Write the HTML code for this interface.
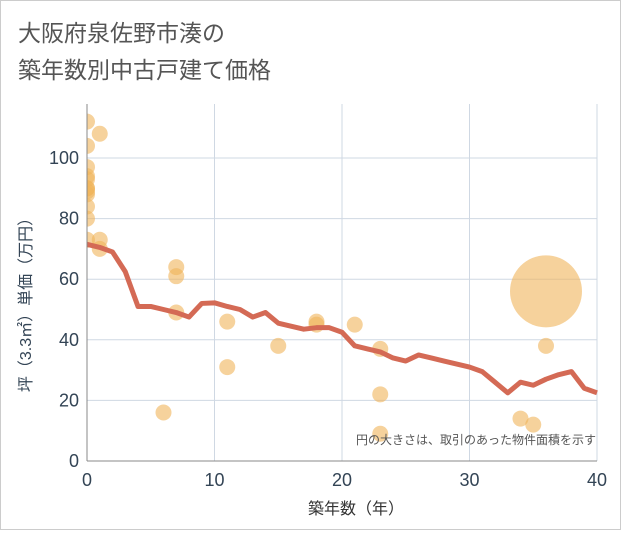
<!DOCTYPE html>
<html><head><meta charset="utf-8"><style>
body{margin:0;background:#fff;}
#wrap{width:619px;height:528px;border:1px solid #ccc;position:relative;font-family:"Liberation Sans","Noto Sans CJK JP",sans-serif;}
</style></head><body>
<div id="wrap">
<svg id="svg" width="619" height="528">
<defs><clipPath id="pc"><rect x="86" y="103" width="510" height="357"/></clipPath></defs>
<text x="17" y="40" font-size="23" fill="#555" font-family="Liberation Sans,Noto Sans CJK JP,sans-serif">大阪府泉佐野市湊の</text>
<text x="17" y="77" font-size="23" fill="#555" font-family="Liberation Sans,Noto Sans CJK JP,sans-serif">築年数別中古戸建て価格</text>
<g id="grid"></g><g id="pts" clip-path="url(#pc)"></g><g id="line"></g><g id="axes"></g>
<text x="595" y="443" font-size="12" fill="#555" text-anchor="end" font-family="Liberation Sans,Noto Sans CJK JP,sans-serif">円の大きさは、取引のあった物件面積を示す</text>
<text x="355" y="513" font-size="16" fill="#333" text-anchor="middle" font-family="Liberation Sans,Noto Sans CJK JP,sans-serif">築年数（年）</text>
<text transform="translate(30,300) rotate(-90)" font-size="16" fill="#345" text-anchor="middle" font-family="Liberation Sans,Noto Sans CJK JP,sans-serif">坪（3.3㎡）単価（万円）</text>
</svg></div>
<script>
const xTicks=[0,10,20,30,40];
const yTicks=[0,20,40,60,80,100];
const lineX=[0,1,2,3,4,5,6,7,8,9,10,11,12,13,14,15,16,17,18,19,20,21,22,23,24,25,26,27,28,29,30,31,32,33,34,35,36,37,38,39,40];
const lineY=[71.5,70.5,69,62.5,51,51,50,49,47.5,52,52.2,51,50,47.5,49,45.5,44.5,43.5,44,44,42.5,38,37,36,34,33,35,34,33,32,31,29.5,26,22.5,26,25,27,28.5,29.5,24,22.5];
const ptX=[0,0,0,0,0,0,0,0,0,0,0,0,1,1,1,6,7,7,7,11,11,15,18,18,21,23,23,23,34,35,36,36];
const ptY=[112,104,97,94,93,90,90,89,88,84,80,73,108,73,70,16,64,61,49,46,31,38,46,45,45,37,22,9,14,12,38,56];
const ptR=[8,8,8,8,8,8,8,8,8,8,8,8,8,8,8,8,8,8,8,8,8,8,8,8,8,8,8,8,8,8,8,36];
const L=86,R=596,T=103,B=460;
const sx=v=>L+(v/40)*(R-L);
const sy=v=>B-v*3.03;
const NS='http://www.w3.org/2000/svg';
function mk(t,a,p){const e=document.createElementNS(NS,t);for(const k in a)e.setAttribute(k,a[k]);p.appendChild(e);return e;}
const g=document.getElementById('grid'),ax=document.getElementById('axes');
xTicks.forEach(v=>{const l=mk('line',{x1:sx(v),x2:sx(v),y1:T,y2:B,stroke:'#cfd8e3'},g);


const t=mk('text',{x:sx(v),y:B+25,'font-size':18,fill:'#345','text-anchor':'middle'},ax);t.textContent=v;

});
yTicks.forEach(v=>{const l=mk('line',{x1:L,x2:R,y1:sy(v),y2:sy(v),stroke:'#cfd8e3'},g);


const t=mk('text',{x:L-8,y:sy(v)+6,'font-size':18,fill:'#345','text-anchor':'end'},ax);t.textContent=v;

});
const a1=mk('line',{x1:L,x2:L,y1:T,y2:B,stroke:'#888'},ax);


const a2=mk('line',{x1:L,x2:R,y1:B,y2:B,stroke:'#888'},ax);


const pg=document.getElementById('pts');
ptX.forEach((x,i)=>{const c=mk('circle',{cx:sx(x),cy:sy(ptY[i]),r:ptR[i],fill:'rgba(240,180,90,0.6)'},pg);

});
const p=mk('polyline',{points:lineX.map((x,i)=>sx(x)+','+sy(lineY[i])).join(' '),fill:'none',stroke:'#d46a55','stroke-width':5,'stroke-linejoin':'round'},document.getElementById('line'));


</script></body></html>
